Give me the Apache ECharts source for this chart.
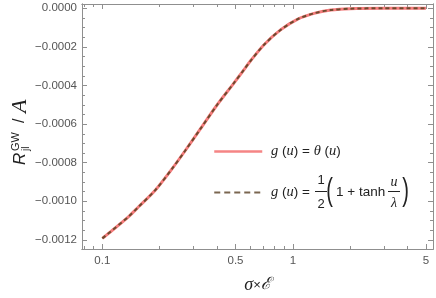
<!DOCTYPE html>
<html>
<head>
<meta charset="utf-8">
<script src="https://cdn.jsdelivr.net/npm/echarts@6/dist/echarts.min.js"></script>
<style>
html,body{margin:0;padding:0;background:#fff;}
#c{width:436px;height:298px;}
</style>
</head>
<body>
<div id="c"></div>
<script>
// ---- data ----
const sigma  = [0.1, 0.137, 0.155, 0.19, 0.232, 0.272, 0.327, 0.4, 0.489, 0.552, 0.6, 0.704, 0.861, 1.055, 1.29, 1.58, 2.0, 3.0, 5.0];
const rTheta = [-0.001192, -0.00108, -0.001028, -0.000941, -0.000832, -0.000738, -0.000625, -0.000501, -0.000389, -0.00032, -0.000272, -0.00019, -0.000112, -0.000057, -0.000026, -0.000009, -0.000002, 0, 0];
const rTanh  = [-0.001192, -0.00108, -0.001028, -0.000941, -0.000832, -0.000738, -0.000625, -0.000501, -0.000389, -0.00032, -0.000272, -0.00019, -0.000112, -0.000057, -0.000026, -0.000009, -0.000002, 0, 0];
const xMajorTicks = [0.1, 0.5, 1, 5];
const xMinorTicks = [0.08, 0.09, 0.2, 0.3, 0.4, 0.6, 0.7, 0.8, 0.9, 2, 3, 4];
const yMajorTicks = [0, -0.0002, -0.0004, -0.0006, -0.0008, -0.0010, -0.0012];
const yMinorTicks = [0.00005, -0.00005, -0.0001, -0.00015, -0.00025, -0.0003, -0.00035, -0.00045, -0.0005, -0.00055,
                     -0.00065, -0.0007, -0.00075, -0.00085, -0.0009, -0.00095, -0.00105, -0.0011, -0.00115];
const xRange = [0.0782, 5.44];
const yRange = [-0.001247, 0.0000223];

const L = Math.log10;
const frameColor = '#8f8f8f';
const labelColor = '#555';
const SANS = '"Liberation Sans", Arial, sans-serif';
const SERIF = '"Liberation Serif", "DejaVu Serif", serif';

function xAxisDef(gridIndex, position, ticks, len, showLabels) {
  return {
    type: 'value', gridIndex, position,
    min: L(xRange[0]), max: L(xRange[1]),
    axisLine: {show: true, onZero: false, lineStyle: {color: frameColor, width: 1}},
    axisTick: {show: true, inside: true, length: len, customValues: ticks.map(L), lineStyle: {color: frameColor}},
    axisLabel: {show: showLabels, customValues: ticks.map(L), color: labelColor, fontFamily: SANS, fontSize: 11.5, margin: 6,
      formatter: v => { const s = Math.pow(10, v); return String(Math.round(s * 1000) / 1000); }},
    splitLine: {show: false}
  };
}
function yAxisDef(gridIndex, position, ticks, len, showLabels) {
  return {
    type: 'value', gridIndex, position,
    min: yRange[0], max: yRange[1],
    axisLine: {show: true, onZero: false, lineStyle: {color: frameColor, width: 1}},
    axisTick: {show: true, inside: true, length: len, customValues: ticks, lineStyle: {color: frameColor}},
    axisLabel: {show: showLabels, customValues: ticks, color: labelColor, fontFamily: SANS, fontSize: 11.5, margin: 5,
      formatter: v => (Math.abs(v) < 1e-12 ? '0.0000' : '\u2212' + Math.abs(v).toFixed(4))},
    splitLine: {show: false}
  };
}

const gridRect = {left: 82, right: 3, top: 4, bottom: 49, containLabel: false, outerBoundsMode: 'none'};
const xb = xAxisDef(0, 'bottom', xMajorTicks, 5, true);
xb.name = '{i|σ}×{s|ℰ}';
xb.nameLocation = 'middle';
xb.nameGap = 27;
xb.nameTextStyle = {fontFamily: SANS, fontSize: 13, color: '#222',
  rich: {i: {fontFamily: SERIF, fontStyle: 'italic', fontSize: 18, color: '#222'},
         s: {fontFamily: SERIF, fontStyle: 'italic', fontSize: 17, color: '#222'}}};

const chart = echarts.init(document.getElementById('c'), null, {renderer: 'canvas'});
chart.setOption({
  animation: false,
  backgroundColor: '#fff',
  grid: [Object.assign({}, gridRect), Object.assign({}, gridRect)],
  xAxis: [
    xb,
    xAxisDef(0, 'top', xMajorTicks, 5, false),
    xAxisDef(1, 'bottom', xMinorTicks, 3, false),
    xAxisDef(1, 'top', xMinorTicks, 3, false)
  ],
  yAxis: [
    yAxisDef(0, 'left', yMajorTicks, 5, true),
    yAxisDef(0, 'right', yMajorTicks, 5, false),
    yAxisDef(1, 'left', yMinorTicks, 3, false),
    yAxisDef(1, 'right', yMinorTicks, 3, false)
  ],
  legend: {
    orient: 'vertical', left: 208, top: 139,
    itemWidth: 48, itemHeight: 14, itemGap: 26,
    itemStyle: {color: 'rgba(0,0,0,0)', borderWidth: 0, opacity: 0},
    data: [
      {name: 'theta', lineStyle: {color: '#f58585', width: 2.5}},
      {name: 'tanh', lineStyle: {color: '#7a6650', width: 2, type: [6, 4]}}
    ],
    formatter: name => name === 'theta'
      ? ' {i|g} ({i|u}) = {i|θ} ({i|u})'
      : ' {i|g} ({i|u}) =',
    textStyle: {fontFamily: SANS, fontSize: 13.5, color: '#222', lineHeight: 14,
      rich: {i: {fontFamily: SERIF, fontStyle: 'italic', fontSize: 14.5, color: '#222', lineHeight: 14}}}
  },
  series: [
    {name: 'theta', type: 'line', xAxisIndex: 0, yAxisIndex: 0, showSymbol: false, symbol: 'none', smooth: 0.3,
     data: sigma.map((s, i) => [L(s), rTheta[i]]),
     lineStyle: {color: '#f47c7c', width: 3}, itemStyle: {color: '#f47c7c'}},
    {name: 'tanh', type: 'line', xAxisIndex: 0, yAxisIndex: 0, showSymbol: false, symbol: 'none', smooth: 0.3,
     data: sigma.map((s, i) => [L(s), rTanh[i]]),
     lineStyle: {color: '#6e4a2e', width: 2, type: [4, 3]}, itemStyle: {color: '#6e4a2e'}}
  ],
  graphic: [
    // second legend formula: 1/2 (1 + tanh u/λ)
    {type: 'text', x: 321, y: 180, style: {text: '1', font: '13px ' + SANS, fill: '#222', align: 'center', verticalAlign: 'middle'}},
    {type: 'line', shape: {x1: 315, y1: 191.5, x2: 327, y2: 191.5}, style: {stroke: '#222', lineWidth: 1}},
    {type: 'text', x: 321, y: 204, style: {text: '2', font: '13px ' + SANS, fill: '#222', align: 'center', verticalAlign: 'middle'}},
    {type: 'text', x: 329.5, y: 191, scaleY: 1.6, style: {text: '(', font: '20px ' + SANS, fill: '#222', align: 'center', verticalAlign: 'middle'}},
    {type: 'text', x: 336, y: 192, style: {text: '1 + tanh', font: '13.5px ' + SANS, fill: '#222', align: 'left', verticalAlign: 'middle'}},
    {type: 'text', x: 394, y: 182, style: {text: 'u', font: 'italic 14px ' + SERIF, fill: '#222', align: 'center', verticalAlign: 'middle'}},
    {type: 'line', shape: {x1: 388, y1: 191.5, x2: 400, y2: 191.5}, style: {stroke: '#222', lineWidth: 1}},
    {type: 'text', x: 394, y: 203, style: {text: 'λ', font: 'italic 14px ' + SERIF, fill: '#222', align: 'center', verticalAlign: 'middle'}},
    {type: 'text', x: 405.5, y: 191, scaleY: 1.6, style: {text: ')', font: '20px ' + SANS, fill: '#222', align: 'center', verticalAlign: 'middle'}},
    // y-axis title, rotated
    {type: 'group', x: 20, y: 165, rotation: Math.PI / 2, children: [
      {type: 'text', x: 0, y: 0, style: {text: 'R', font: 'italic 17px ' + SANS, fill: '#222', align: 'left', verticalAlign: 'middle'}},
      {type: 'text', x: 14, y: -4, style: {text: 'GW', font: '11px ' + SANS, fill: '#222', align: 'left', verticalAlign: 'middle'}},
      {type: 'text', x: 14, y: 6, style: {text: 'jl', font: '10px ' + SANS, fill: '#222', align: 'left', verticalAlign: 'middle'}},
      {type: 'text', x: 42, y: 0, style: {text: '/', font: '16px ' + SANS, fill: '#222', align: 'left', verticalAlign: 'middle'}},
      {type: 'text', x: 52, y: 0, style: {text: 'A', font: 'italic 22px ' + SERIF, fill: '#222', align: 'left', verticalAlign: 'middle'}}
    ]}
  ]
});
</script>
</body>
</html>
